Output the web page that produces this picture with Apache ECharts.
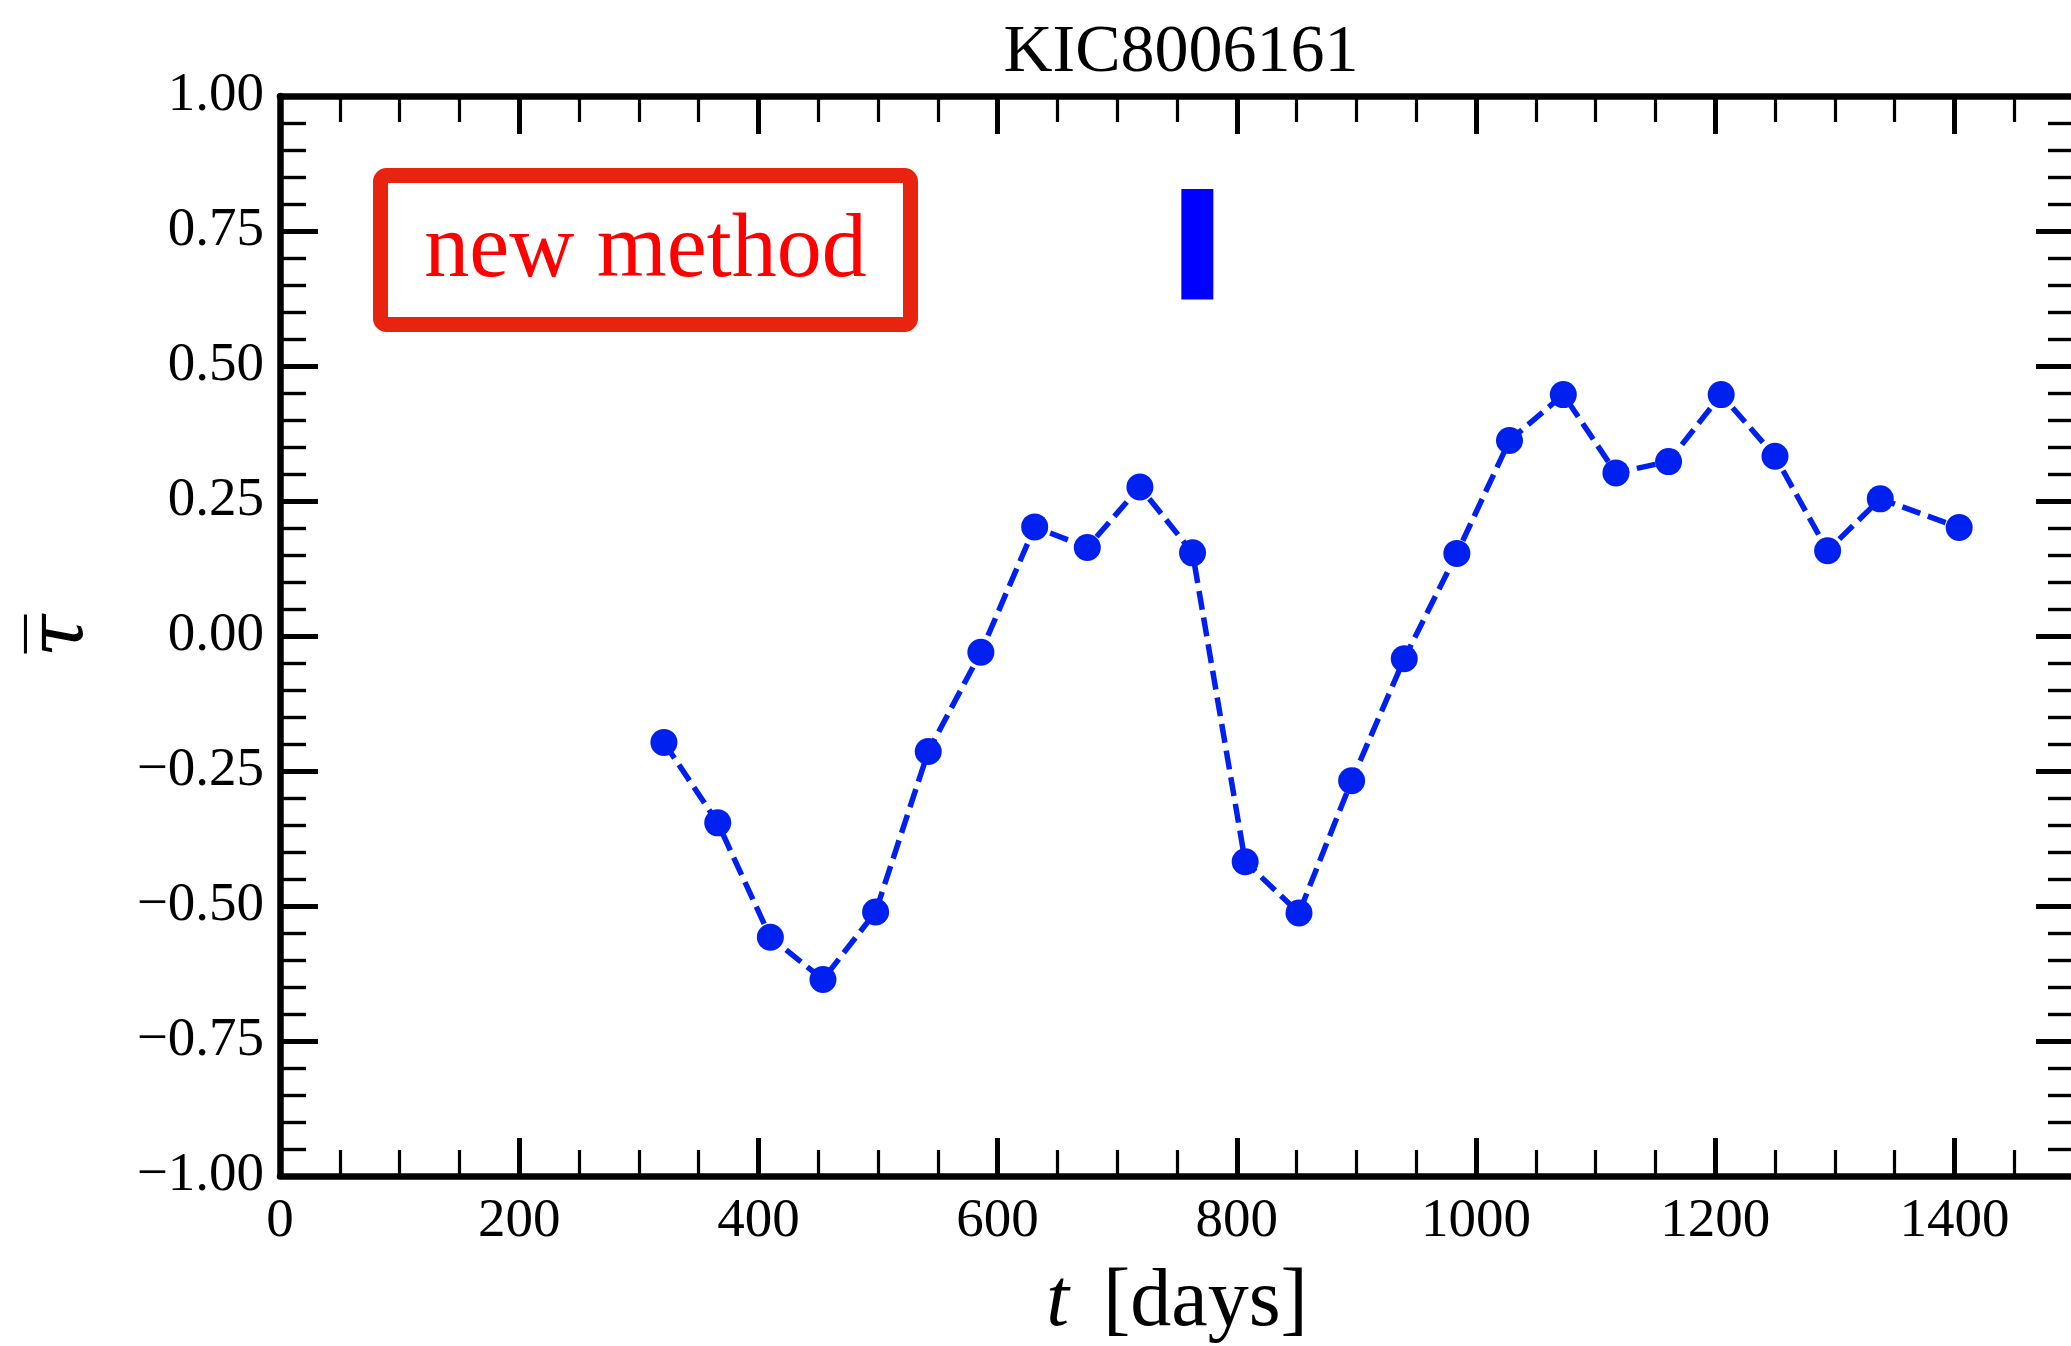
<!DOCTYPE html>
<html>
<head>
<meta charset="utf-8">
<script src="https://cdn.jsdelivr.net/npm/echarts@6/dist/echarts.min.js"></script>
<style>
  html, body { margin: 0; padding: 0; background: #fff; }
  #chart { width: 2071px; height: 1346px; }
</style>
</head>
<body>
<div id="chart"></div>
<script>
// ---- data ----
const chartTitle = 'KIC8006161';
const tDays = [321, 366, 410, 454, 498, 542, 586, 631, 675, 719, 763, 807, 852,
               896, 940, 984, 1028, 1073, 1117, 1161, 1205, 1250, 1294, 1338, 1404];
const tauBar = [-0.197, -0.346, -0.558, -0.636, -0.511, -0.214, -0.030, 0.202, 0.164,
                0.276, 0.154, -0.418, -0.513, -0.268, -0.042, 0.153, 0.362, 0.447,
                0.302, 0.323, 0.447, 0.333, 0.158, 0.254, 0.201];
// representative error bar: [t, low, high]
const errBar = [767, 0.623, 0.828];
const xRange = [0, 1500];
const yRange = [-1, 1];
const xMajor = 200, xMinor = 50, yMajor = 0.25;
const boxLabel = 'new method';

// ---- chart ----
const chart = echarts.init(document.getElementById('chart'), null, { renderer: 'canvas' });
const SERIF = 'Liberation Serif';
const BLUE = '#0020F0';
const gridRect = { left: 280, top: 96, width: 1794, height: 1080, outerBoundsMode: 'none', containLabel: false };

function fmtY(v) {
  const s = Math.abs(v).toFixed(2);
  return (v < 0 ? '\u2212' : '') + s;
}

const majorTick = { show: true, inside: true, length: 38, lineStyle: { color: '#000', width: 5 } };
const minorTickX = { show: true, inside: true, length: 26, lineStyle: { color: '#000', width: 3.2 } };
const axisLine = { show: true, onZero: false, lineStyle: { color: '#000', width: 6.5 } };
const labelStyle = { color: '#000', fontFamily: SERIF, fontSize: 55 };

function xMajorAxis(pos, withLabels) {
  return {
    type: 'value', gridIndex: 0, position: pos, min: xRange[0], max: xRange[1], interval: xMajor,
    axisLine: axisLine, axisTick: majorTick, splitLine: { show: false },
    axisLabel: withLabels ? Object.assign({ show: true, margin: 18, showMaxLabel: false,
      formatter: v => (v % xMajor === 0 ? String(v) : '') }, labelStyle) : { show: false },
    name: withLabels ? '{t|t}{d|[days]}' : '',
    nameLocation: 'middle', nameGap: 86,
    nameTextStyle: {
      rich: {
        t: { fontFamily: SERIF, fontStyle: 'italic', fontSize: 82, color: '#000', padding: [0, 34, 0, 0] },
        d: { fontFamily: SERIF, fontSize: 82, color: '#000' }
      }
    }
  };
}
function xMinorAxis(pos) {
  return {
    type: 'value', gridIndex: 1, position: pos, min: xRange[0], max: xRange[1], interval: xMinor,
    axisLine: { show: false, onZero: false }, axisTick: minorTickX, axisLabel: { show: false },
    splitLine: { show: false }
  };
}
function yAxis(pos, withLabels) {
  return {
    type: 'value', gridIndex: 0, position: pos, min: yRange[0], max: yRange[1], interval: yMajor,
    axisLine: axisLine, axisTick: majorTick, splitLine: { show: false },
    minorTick: { show: true, splitNumber: 5, length: 26, lineStyle: { color: '#000', width: 3.4 } },
    minorSplitLine: { show: false },
    axisLabel: withLabels ? Object.assign({ show: true, margin: 16, formatter: fmtY }, labelStyle) : { show: false },
    name: withLabels ? '\u03C4\u0305' : '',
    nameLocation: 'middle', nameGap: 178, nameRotate: 90,
    nameTextStyle: { fontFamily: 'DejaVu Serif', fontStyle: 'italic', fontSize: 78, color: '#000' }
  };
}
function hiddenY() {
  return { type: 'value', gridIndex: 1, min: yRange[0], max: yRange[1], show: false, splitLine: { show: false } };
}

const option = {
  animation: false,
  backgroundColor: '#fff',
  title: {
    text: chartTitle, left: 1176, top: 14, textAlign: 'center',
    textStyle: { fontFamily: SERIF, fontWeight: 'normal', fontSize: 68, color: '#000' }
  },
  grid: [Object.assign({}, gridRect), Object.assign({}, gridRect)],
  xAxis: [xMajorAxis('bottom', true), xMajorAxis('top', false), xMinorAxis('bottom'), xMinorAxis('top')],
  yAxis: [yAxis('left', true), yAxis('right', false), hiddenY()],
  graphic: [
    {
      type: 'rect', z: 10,
      shape: { x: 380.5, y: 175.5, width: 530, height: 149, r: 6 },
      style: { fill: 'transparent', stroke: '#E8230F', lineWidth: 15 }
    },
    {
      type: 'text', z: 11, x: 645.5, y: 252,
      style: { text: boxLabel, fill: '#FF0000', font: '90px "Liberation Serif"', align: 'center', verticalAlign: 'middle' }
    }
  ],
  series: [
    {
      type: 'line', xAxisIndex: 0, yAxisIndex: 0,
      data: tDays.map((t, i) => [t, tauBar[i]]),
      symbol: 'circle', symbolSize: 27,
      itemStyle: { color: BLUE },
      lineStyle: { color: BLUE, width: 5.5, type: [19, 8] },
      z: 5
    },
    {
      type: 'line', xAxisIndex: 0, yAxisIndex: 0,
      data: [[errBar[0], errBar[1]], [errBar[0], errBar[2]]],
      symbol: 'none',
      lineStyle: { color: '#0000FF', width: 32, cap: 'butt' },
      z: 4
    }
  ]
};
chart.setOption(option);
</script>
</body>
</html>
